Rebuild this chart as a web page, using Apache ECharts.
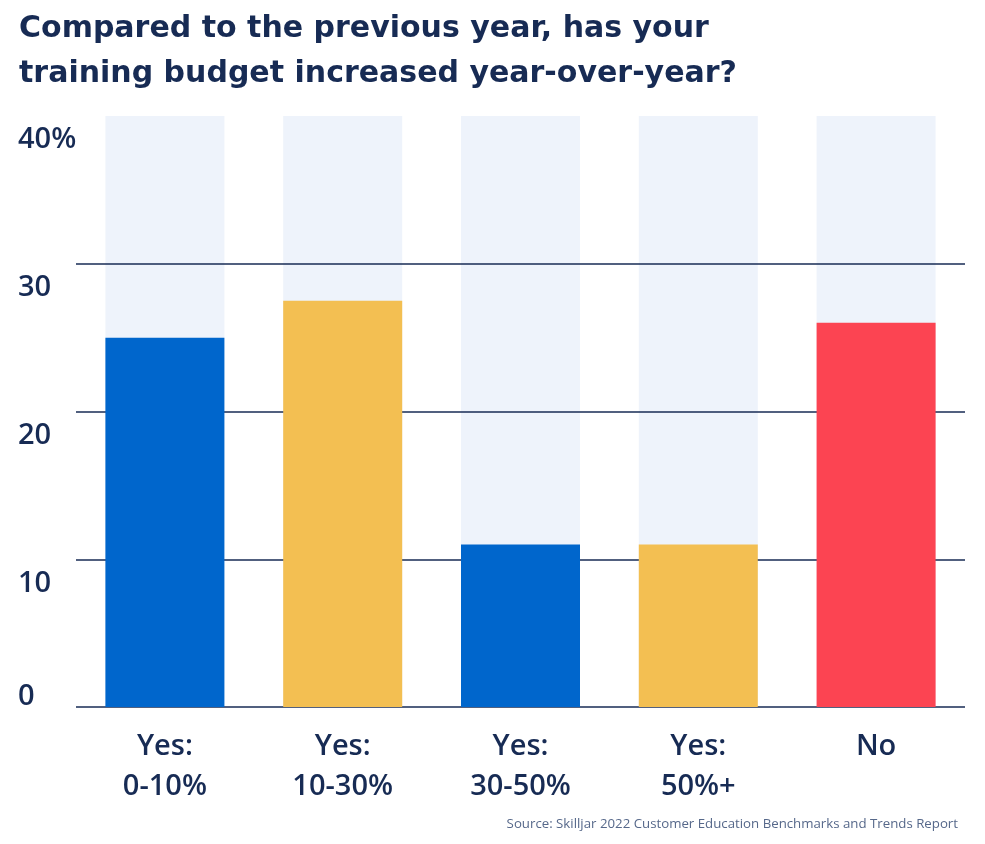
<!DOCTYPE html>
<html>
<head>
<meta charset="utf-8">
<script src="https://cdn.jsdelivr.net/npm/echarts@6/dist/echarts.min.js"></script>
<style>html,body{margin:0;padding:0;background:#fff;}#main{width:985px;height:844px;}</style>
</head>
<body>
<div id="main"></div>
<script>
const categories = ['Yes:\n0-10%', 'Yes:\n10-30%', 'Yes:\n30-50%', 'Yes:\n50%+', 'No'];
const values = [25, 27.5, 11, 11, 26];
const barColors = ['#0066CC', '#F3BF52', '#0066CC', '#F3BF52', '#FC4452'];
const yTicks = [0, 10, 20, 30, 40];
const yMax = 40;
const titleText = 'Compared to the previous year, has your\ntraining budget increased year-over-year?';
const sourceText = 'Source: Skilljar 2022 Customer Education Benchmarks and Trends Report';

const navy = '#172B54';
const chart = echarts.init(document.getElementById('main'));
chart.setOption({
  animation: false,
  backgroundColor: '#ffffff',
  title: [{
    text: titleText,
    left: 14, top: 2,
    textStyle: { fontFamily: 'DejaVu Sans', fontWeight: 700, fontSize: 30, lineHeight: 45, color: navy }
  }, {
    text: sourceText,
    right: 22, top: 813,
    textStyle: { fontFamily: 'Open Sans', fontWeight: 400, fontSize: 13.25, color: '#56688A' }
  }],
  grid: { left: 76, right: 20, top: 116, bottom: 137, containLabel: false },
  xAxis: {
    type: 'category',
    data: categories,
    axisLine: { show: false },
    axisTick: { show: false },
    axisLabel: {
      margin: 20,
      fontFamily: 'Open Sans', fontWeight: 600, fontSize: 29, lineHeight: 40, color: navy
    }
  },
  yAxis: {
    type: 'value',
    min: 0, max: yMax, interval: 10,
    z: 1,
    axisLine: { show: false },
    axisTick: { show: false },
    splitLine: { show: true, lineStyle: { color: [navy, navy, navy, navy, 'rgba(0,0,0,0)'], width: 1.6 } },
    axisLabel: {
      align: 'left',
      margin: 58,
      formatter: function (v) {
        if (v === yMax) return '{d|' + v + '%}';
        if (v === 0) return '{z|' + v + '}';
        return '{d|' + v + '}';
      },
      rich: {
        d: { fontFamily: 'Open Sans', fontWeight: 600, fontSize: 29, color: navy, padding: [48, 0, 0, 0] },
        z: { fontFamily: 'Open Sans', fontWeight: 600, fontSize: 29, color: navy, padding: [0, 0, 20, 0] }
      }
    }
  },
  series: [{
    type: 'bar',
    z: 0,
    barWidth: 119,
    silent: true,
    itemStyle: { color: '#EEF3FB' },
    data: categories.map(() => yMax)
  }, {
    type: 'bar',
    z: 2,
    barWidth: 119,
    barGap: '-100%',
    data: values.map((v, i) => ({ value: v, itemStyle: { color: barColors[i] } }))
  }]
});
</script>
</body>
</html>
